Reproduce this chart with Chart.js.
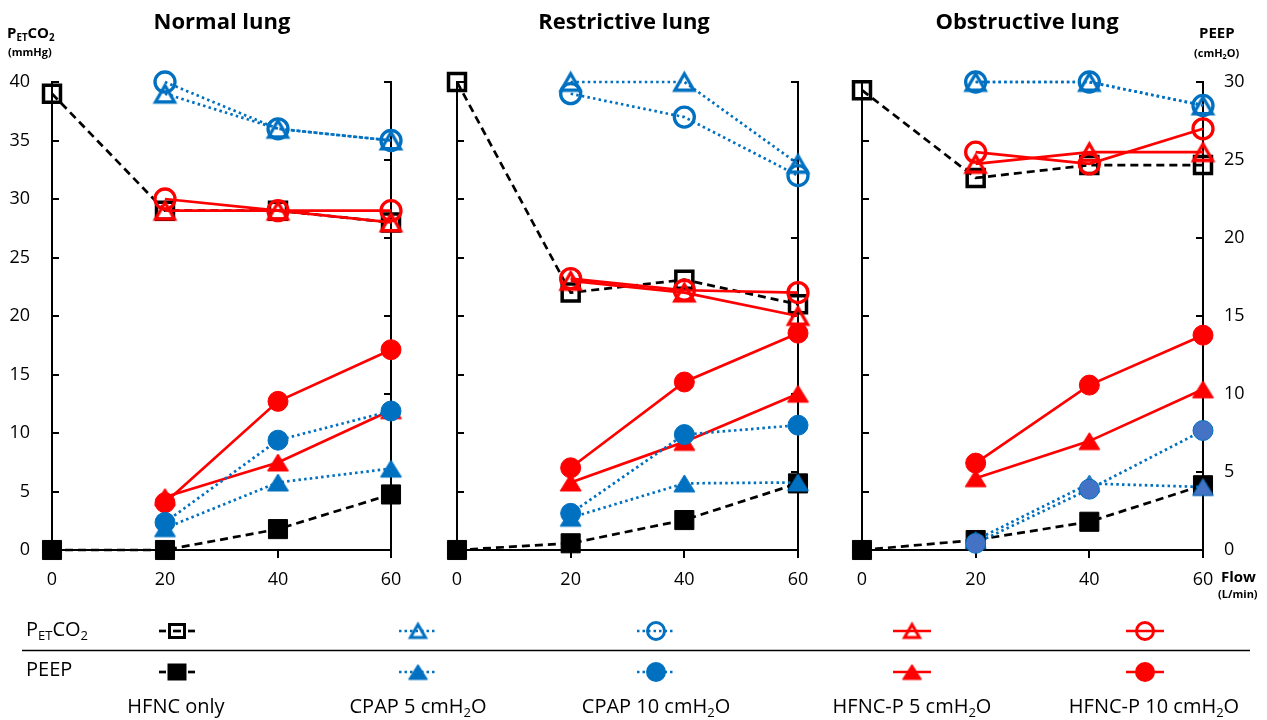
<!DOCTYPE html>
<html><head><meta charset="utf-8">
<script src="https://cdn.jsdelivr.net/npm/chart.js@4.4.1/dist/chart.umd.min.js"></script>
<style>
html,body{margin:0;padding:0;background:#fff;}
body{width:1267px;height:720px;position:relative;overflow:hidden;font-family:"Open Sans",sans-serif;color:#000;}
canvas{position:absolute;}
.tx{position:absolute;white-space:nowrap;}
.title{font-weight:700;font-size:22px;line-height:22px;top:9px;width:300px;text-align:center;}
.ax{font-weight:700;font-size:15px;line-height:15px;}
.axs{font-weight:700;font-size:11px;line-height:11px;}
.lg{font-size:20px;line-height:20px;}
.lgl{font-size:20px;line-height:20px;width:260px;text-align:center;top:696px;}
sub{font-size:0.65em;line-height:0;vertical-align:-0.3em;}
</style></head>
<body>
<canvas id="p0" width="420" height="600" style="left:0;top:0"></canvas>
<canvas id="p1" width="420" height="600" style="left:420px;top:0"></canvas>
<canvas id="p2" width="427" height="600" style="left:840px;top:0"></canvas>
<canvas id="lg" width="1267" height="120" style="left:0;top:600px"></canvas>
<div id="titles"></div>
<div class="tx ax" style="left:7px;top:25px">P<sub>ET</sub>CO<sub>2</sub></div>
<div class="tx axs" style="left:8px;top:46px">(mmHg)</div>
<div class="tx ax" style="left:1199px;top:25px">PEEP</div>
<div class="tx axs" style="left:1194px;top:47px">(cmH<sub>2</sub>O)</div>
<div class="tx ax" style="left:1221px;top:569px">Flow</div>
<div class="tx axs" style="left:1218px;top:588px">(L/min)</div>
<div class="tx lg" style="left:26px;top:619px">P<sub>ET</sub>CO<sub>2</sub></div>
<div class="tx lg" style="left:26px;top:659px">PEEP</div>
<div id="lglabels"></div>
<script>
// ---------- DATA ----------
const flows = [0, 20, 40, 60];
const panelTitles = ['Normal lung', 'Restrictive lung', 'Obstructive lung'];
const seriesKeys = ['HFNC', 'CPAP5', 'CPAP10', 'HP5', 'HP10'];
const legendLabels = ['HFNC only', 'CPAP 5 cmH<sub>2</sub>O', 'CPAP 10 cmH<sub>2</sub>O', 'HFNC-P 5 cmH<sub>2</sub>O', 'HFNC-P 10 cmH<sub>2</sub>O'];

// Normal lung — PETCO2 (mmHg)
const normalPetHFNC   = [39, 29, 29, 28];
const normalPetCPAP5  = [null, 39, 36, 35];
const normalPetCPAP10 = [null, 40, 36, 35];
const normalPetHP5    = [null, 29, 29, 28];
const normalPetHP10   = [null, 30, 29, 29];
// Normal lung — PEEP (cmH2O)
const normalPeepHFNC   = [0, 0, 1.34, 3.56];
const normalPeepCPAP5  = [null, 1.4, 4.33, 5.22];
const normalPeepCPAP10 = [null, 1.77, 7.04, 8.91];
const normalPeepHP5    = [null, 3.4, 5.61, 8.96];
const normalPeepHP10   = [null, 3.03, 9.53, 12.84];

// Restrictive lung — PETCO2
const restrPetHFNC   = [40, 22, 23.1, 21];
const restrPetCPAP5  = [null, 40, 40, 33];
const restrPetCPAP10 = [null, 39, 37, 32];
const restrPetHP5    = [null, 23, 22, 20];
const restrPetHP10   = [null, 23.2, 22.2, 22];
// Restrictive lung — PEEP
const restrPeepHFNC   = [0, 0.43, 1.92, 4.27];
const restrPeepCPAP5  = [null, 2.07, 4.27, 4.33];
const restrPeepCPAP10 = [null, 2.35, 7.4, 8.0];
const restrPeepHP5    = [null, 4.33, 6.93, 10.02];
const restrPeepHP10   = [null, 5.27, 10.77, 13.9];

// Obstructive lung — PETCO2
const obstPetHFNC   = [39.3, 31.8, 32.9, 32.9];
const obstPetCPAP5  = [null, 40, 40, 38];
const obstPetCPAP10 = [null, 40, 40, 38];
const obstPetHP5    = [null, 33, 34, 34];
const obstPetHP10   = [null, 34, 33, 36];
// Obstructive lung — PEEP
const obstPeepHFNC   = [0, 0.64, 1.81, 4.15];
const obstPeepCPAP5  = [null, 0.64, 4.26, 4.04];
const obstPeepCPAP10 = [null, 0.43, 3.9, 7.66];
const obstPeepHP5    = [null, 4.6, 6.98, 10.3];
const obstPeepHP10   = [null, 5.57, 10.57, 13.77];

const panels = [
  {pet:{HFNC:normalPetHFNC,CPAP5:normalPetCPAP5,CPAP10:normalPetCPAP10,HP5:normalPetHP5,HP10:normalPetHP10},
   peep:{HFNC:normalPeepHFNC,CPAP5:normalPeepCPAP5,CPAP10:normalPeepCPAP10,HP5:normalPeepHP5,HP10:normalPeepHP10}},
  {pet:{HFNC:restrPetHFNC,CPAP5:restrPetCPAP5,CPAP10:restrPetCPAP10,HP5:restrPetHP5,HP10:restrPetHP10},
   peep:{HFNC:restrPeepHFNC,CPAP5:restrPeepCPAP5,CPAP10:restrPeepCPAP10,HP5:restrPeepHP5,HP10:restrPeepHP10}},
  {pet:{HFNC:obstPetHFNC,CPAP5:obstPetCPAP5,CPAP10:obstPetCPAP10,HP5:obstPetHP5,HP10:obstPetHP10},
   peep:{HFNC:obstPeepHFNC,CPAP5:obstPeepCPAP5,CPAP10:obstPeepCPAP10,HP5:obstPeepHP5,HP10:obstPeepHP10}}
];

// ---------- STYLE ----------
const BLUE = '#0070C0', RED = '#FF0000', BLACK = '#000000';
const DASH = [8, 5], DOT = [2.5, 3.2];
const STY = {
  HFNC:   {color:BLACK, dash:DASH, shape:'rect',   order:4},
  CPAP5:  {color:BLUE,  dash:DOT,  shape:'tri',    order:1},
  CPAP10: {color:BLUE,  dash:DOT,  shape:'circle', order:0},
  HP5:    {color:RED,   dash:[],   shape:'tri',    order:3},
  HP10:   {color:RED,   dash:[],   shape:'circle', order:2}
};
const layoutCfg = [
  {leftW:52, rightW:29, leftLabels:true,  rightLabels:false, titleX:222},
  {leftW:37, rightW:42, leftLabels:false, rightLabels:false, titleX:624},
  {leftW:22, rightW:64, leftLabels:false, rightLabels:true,  titleX:1027, peepFill:'#4472C4'}
];
const legendX = [177, 418, 656, 912, 1145];
const labelX = [176, 418, 656, 912, 1154];

function triImg(fill, stroke, w, h, lw) {
  const pad = Math.ceil(lw) + 3;
  const c = document.createElement('canvas');
  c.width = Math.ceil(w + 2 * pad); c.height = Math.ceil(h + 2 * pad);
  const x = c.getContext('2d');
  const cx = c.width / 2, cy = c.height / 2;
  x.beginPath();
  x.moveTo(cx, cy - h / 2); x.lineTo(cx + w / 2, cy + h / 2); x.lineTo(cx - w / 2, cy + h / 2);
  x.closePath();
  if (fill) { x.fillStyle = fill; x.fill(); }
  if (lw > 0) { x.lineWidth = lw; x.strokeStyle = stroke; x.lineJoin = 'miter'; x.stroke(); }
  return c;
}

function pointOpts(st, filled, fillOverride) {
  const col = st.color;
  const fc = fillOverride || col;
  if (st.shape === 'tri') {
    return {pointStyle: filled ? triImg(fc, col, 21, 17, 1) : triImg(null, col, 19, 16.5, 3.3), pointRadius: 12};
  }
  if (st.shape === 'rect') {
    return filled ? {pointStyle:'rect', pointRadius:13.5, pointBorderWidth:1, pointBackgroundColor:col, pointBorderColor:col}
                  : {pointStyle:'rect', pointRadius:12, pointBorderWidth:3.5, pointBackgroundColor:'rgba(0,0,0,0)', pointBorderColor:col};
  }
  return filled ? {pointStyle:'circle', pointRadius:10, pointBorderWidth:1, pointBackgroundColor:fc, pointBorderColor:col}
                : {pointStyle:'circle', pointRadius:10, pointBorderWidth:3.3, pointBackgroundColor:'rgba(0,0,0,0)', pointBorderColor:col};
}

const inwardTicks = {
  id: 'inwardTicks',
  beforeDatasetsDraw(chart) {
    const ctx = chart.ctx;
    ['y', 'y2'].forEach(id => {
      const s = chart.scales[id];
      const x0 = id === 'y' ? s.right : s.left;
      const dir = id === 'y' ? 1 : -1;
      ctx.save();
      ctx.strokeStyle = '#000'; ctx.lineWidth = 2;
      s.ticks.forEach(t => {
        const py = Math.round(s.getPixelForValue(t.value));
        ctx.beginPath(); ctx.moveTo(x0, py); ctx.lineTo(x0 + dir * 7, py); ctx.stroke();
      });
      ctx.restore();
    });
  }
};

const tickFont = {family:'Open Sans', size:18};

panels.forEach((pd, pi) => {
  const L = layoutCfg[pi];
  const datasets = [];
  seriesKeys.forEach(k => {
    const st = STY[k];
    const base = {borderColor:st.color, borderWidth:2.7, borderDash:st.dash, fill:false, tension:0, clip:false, spanGaps:false};
    datasets.push(Object.assign({}, base, {
      label: k + ' PETCO2', yAxisID:'y', order: st.order + 5,
      data: flows.map((f, i) => ({x:f, y:pd.pet[k][i]}))
    }, pointOpts(st, false)));
    datasets.push(Object.assign({}, base, {
      label: k + ' PEEP', yAxisID:'y2', order: st.order,
      data: flows.map((f, i) => ({x:f, y:pd.peep[k][i]}))
    }, pointOpts(st, true, (k === 'CPAP5' || k === 'CPAP10') ? L.peepFill : null)));
  });
  new Chart(document.getElementById('p' + pi), {
    type: 'line',
    data: {datasets},
    plugins: [inwardTicks],
    options: {
      responsive:false, animation:false, events:[],
      layout:{padding:{top:82, left:0, right:0, bottom:0}},
      plugins:{legend:{display:false}, tooltip:{enabled:false}, title:{display:false}},
      scales:{
        x:{type:'linear', position:'bottom', min:0, max:60,
           ticks:{stepSize:20, font:tickFont, color:'#000', padding:11, maxRotation:0},
           grid:{display:true, drawOnChartArea:false, drawTicks:true, tickLength:8, color:'#000', lineWidth:2},
           border:{display:true, color:'#000', width:2},
           afterFit(s){ s.height = 50; }},
        y:{type:'linear', position:'left', min:0, max:40,
           ticks:{stepSize:5, display:L.leftLabels, padding:22, font:tickFont, color:'#000'},
           grid:{display:false, drawTicks:false},
           border:{display:true, color:'#000', width:2},
           afterFit(s){ s.width = L.leftW; }},
        y2:{type:'linear', position:'right', min:0, max:30,
           ticks:{stepSize:5, display:L.rightLabels, padding:21, font:tickFont, color:'#000'},
           grid:{display:false, drawTicks:false},
           border:{display:true, color:'#000', width:2},
           afterFit(s){ s.width = L.rightW; }}
      }
    }
  });
  const t = document.createElement('div');
  t.className = 'tx title';
  t.style.left = (L.titleX - 150) + 'px';
  t.textContent = panelTitles[pi];
  document.getElementById('titles').appendChild(t);
});

// ---------- LEGEND ----------
function legendSym(ctx, cx, cy, st, filled) {
  ctx.save();
  ctx.strokeStyle = st.color; ctx.fillStyle = st.color; ctx.lineWidth = 2.7;
  if (st.dash === DASH) {
    [[-18, -11], [-4, 4], [11, 18]].forEach(sg => { ctx.beginPath(); ctx.moveTo(cx + sg[0], cy); ctx.lineTo(cx + sg[1], cy); ctx.stroke(); });
  } else {
    ctx.setLineDash(st.dash.length ? [2.5, 3] : []);
    ctx.beginPath(); ctx.moveTo(cx - 19, cy); ctx.lineTo(cx + 19, cy); ctx.stroke();
  }
  ctx.setLineDash([]);
  if (st.shape === 'rect') {
    if (filled) ctx.fillRect(cx - 9.5, cy - 8.5, 19, 17);
    else { ctx.lineWidth = 3; ctx.strokeRect(cx - 7.5, cy - 6.5, 15, 13); }
  } else if (st.shape === 'circle') {
    ctx.beginPath();
    if (filled) { ctx.arc(cx, cy, 10, 0, Math.PI * 2); ctx.fill(); }
    else { ctx.lineWidth = 3; ctx.arc(cx, cy, 8.5, 0, Math.PI * 2); ctx.stroke(); }
  } else {
    const im = filled ? triImg(st.color, st.color, 19, 15, 1) : triImg(null, st.color, 15, 13, 3);
    ctx.drawImage(im, cx - im.width / 2, cy - im.height / 2);
  }
  ctx.restore();
}
(function drawLegend() {
  const ctx = document.getElementById('lg').getContext('2d');
  ctx.strokeStyle = '#000'; ctx.lineWidth = 1.5;
  ctx.beginPath(); ctx.moveTo(22, 50.5); ctx.lineTo(1250, 50.5); ctx.stroke();
  seriesKeys.forEach((k, i) => {
    legendSym(ctx, legendX[i], 31, STY[k], false);
    legendSym(ctx, legendX[i], 72, STY[k], true);
    const d = document.createElement('div');
    d.className = 'tx lgl';
    d.style.left = (labelX[i] - 130) + 'px';
    d.innerHTML = legendLabels[i];
    document.getElementById('lglabels').appendChild(d);
  });
})();
</script>
</body></html>
